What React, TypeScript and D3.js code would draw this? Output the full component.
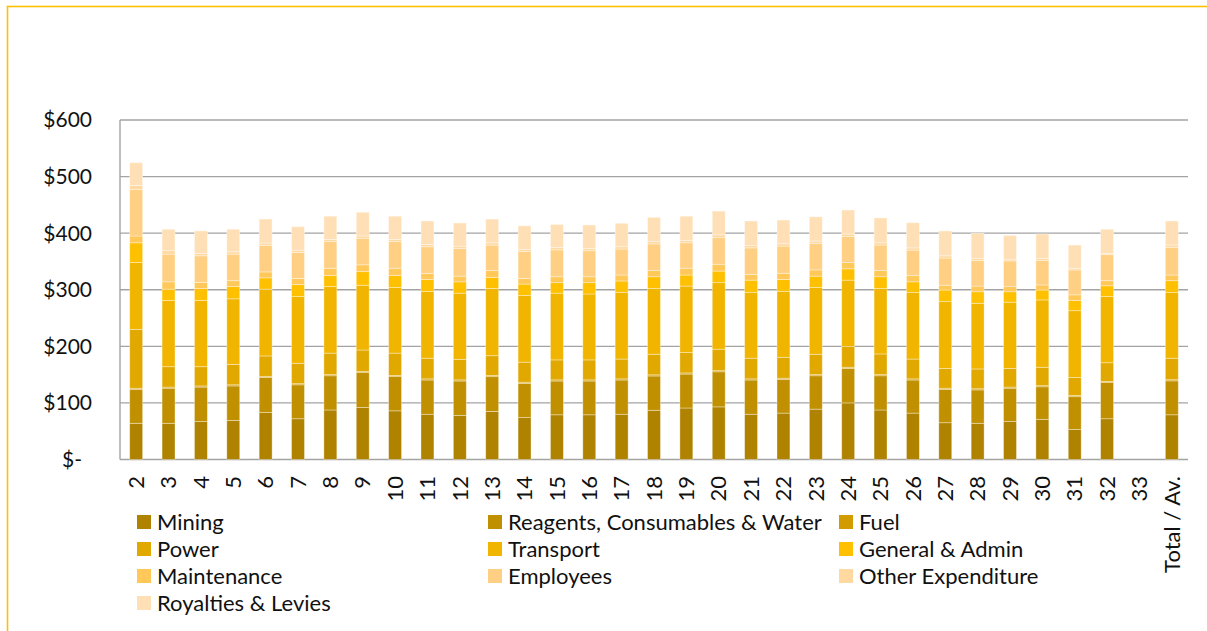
import React from "react";
import * as d3 from "d3";

const categories = ["2","3","4","5","6","7","8","9","10","11","12","13","14","15","16","17","18","19","20","21","22","23","24","25","26","27","28","29","30","31","32","33","Total / Av."];

const seriesNames = ["Mining","Reagents, Consumables & Water","Fuel","Power","Transport","General & Admin","Maintenance","Employees","Other Expenditure","Royalties & Levies"];
const seriesColors = ["#AF8200","#C09000","#D29B00","#E1A800","#F1B500","#FFC000","#FFC858","#FFD083","#FFD9A0","#FFE0B6"];

const mining = [64,64,67,69,83,72,87.5,92,86,80,78,85,74,79,79,80,87,91,93,80,82,89,100,87.5,82,65,64,67,71,53,72,0,79];
const reagents = [60,62,61,61,62,60,60.5,61.5,60.5,60.5,60.7,61.4,60.6,59.7,59.7,60.5,60.6,60,62,60.5,59.7,59,61,60.5,58.5,59,59,59,57.5,58,64,0,60];
const fuel = [2,2,2,2,2,2,2,2,2,2,2,2,2,2,2,2,2,2,2,2,2,2,2,2,2,2,2,2,2,2,2,0,2];
const power = [104,36,34,36,36,36,38,38,39.5,36.5,36.3,35,35.4,35.3,35.3,35,36.4,36,38,36.5,37,36,36.5,36.5,35,35,35,33,32.5,32,33,0,38];
const transport = [118,117,117,116,118,118,117.5,114.5,116,118,117,119,118,118,116.5,118,116.5,117.5,117.5,116,116.5,118,117.5,116,117.5,118,116,117,119,118,117,0,116];
const admin = [35,20,21,21.5,20,21,19.5,24,21,21,20,19.5,20,18.5,20,20,20.5,19.5,20.5,22,21,20,20,20.5,19,20.5,20.5,18.5,17.5,18,19,0,21];
const maintenance = [12,13,11,10.5,10.5,11,13,12,13,11,10,12,10,10.5,10.5,10.5,11,12,12,10,11,11,11,11,11,8.5,10,9,9,10,9,0,10];
const employees = [82.5,49,47,47,47,46,47,47,47,47,49,45,47.5,47.5,46,46,47,45,47,47,48,47,46,45,45,48,45.5,45.5,43.5,44,46,0,49];
const other = [7,6,4,4,4,4,4,4,4,4,4,4,4,4,4,4,4,4,5,4,4,4,4.5,4,4,4,3.5,3,3.5,3,2.5,0,4];
const royalties = [40,38,40,40,42.5,41.5,41,42,41,41.5,41,42,41.5,41,41.5,41.5,43,43,42,43.5,42,43,42.5,44,44.5,44,44.5,42,43,41,42.5,0,42.5];

const yTicks = [0,100,200,300,400,500,600];

const W = 1207, H = 631;
const M = { left: 120, right: 1188, top: 120, bottom: 459.5 };
const FONT = "Lato, 'Open Sans', sans-serif";

export default function App() {
  const seriesData = [mining, reagents, fuel, power, transport, admin, maintenance, employees, other, royalties];
  const rows = categories.map((c, i) => {
    const r: any = { cat: c };
    seriesNames.forEach((s, j) => { r[s] = seriesData[j][i]; });
    return r;
  });
  const stacked = d3.stack<any>().keys(seriesNames)(rows);

  const x = d3.scaleBand().domain(categories).range([M.left, M.right]).paddingInner(0.6).paddingOuter(0.3);
  const y = d3.scaleLinear().domain([0, 600]).range([M.bottom, M.top]);

  const fmt = (v: number) => (v === 0 ? "$-" : "$" + d3.format("d")(v));

  const legendCols = [137, 488, 839];
  const legendRowY = [522, 549, 576, 603];

  return (
    <div style={{ position: "absolute", left: 0, top: 0 }}>
      <svg width={W} height={H} style={{ display: "block", background: "#fff" }}>
        <rect x={7.5} y={6.5} width={W + 10} height={H + 10} fill="none" stroke="#FFC000" strokeWidth={1.6} />
        {yTicks.map((t) => (
          <line key={"g" + t} x1={M.left} x2={M.right} y1={y(t)} y2={y(t)} stroke="#A3A3A3" strokeWidth={1.4} />
        ))}
        <line x1={M.left} x2={M.left} y1={M.top} y2={M.bottom} stroke="#A3A3A3" strokeWidth={1.4} />
        {yTicks.map((t) => (
          <text key={"yt" + t} x={t === 0 ? 82 : 92} y={y(t)} dy="0.35em" textAnchor="end" fontFamily={FONT} fontSize={21} fill="#111">
            {fmt(t)}
          </text>
        ))}
        {stacked.map((s, si) => (
          <g key={s.key} fill={seriesColors[si]}>
            {s.map((d, i) => {
              const h = y(d[0]) - y(d[1]);
              if (h <= 0) return null;
              return (
                <rect key={i} x={x(categories[i])} width={x.bandwidth()} y={y(d[1])} height={h}
                  stroke="#ffffff" strokeOpacity={0.45} strokeWidth={0.8} />
              );
            })}
          </g>
        ))}
        {categories.map((c) => (
          <text key={"xt" + c} transform={`translate(${(x(c) as number) + x.bandwidth() / 2},476) rotate(-90)`}
            textAnchor="end" dy="0.35em" fontFamily={FONT} fontSize={22} fill="#111">
            {c}
          </text>
        ))}
        {seriesNames.map((s, i) => {
          const col = i % 3, row = Math.floor(i / 3);
          const lx = legendCols[col], ly = legendRowY[row];
          return (
            <g key={"lg" + s}>
              <rect x={lx} y={ly - 7} width={14} height={14} fill={seriesColors[i]} />
              <text x={lx + 20} y={ly} dy="0.35em" fontFamily={FONT} fontSize={22} fill="#111">{s}</text>
            </g>
          );
        })}
      </svg>
    </div>
  );
}
